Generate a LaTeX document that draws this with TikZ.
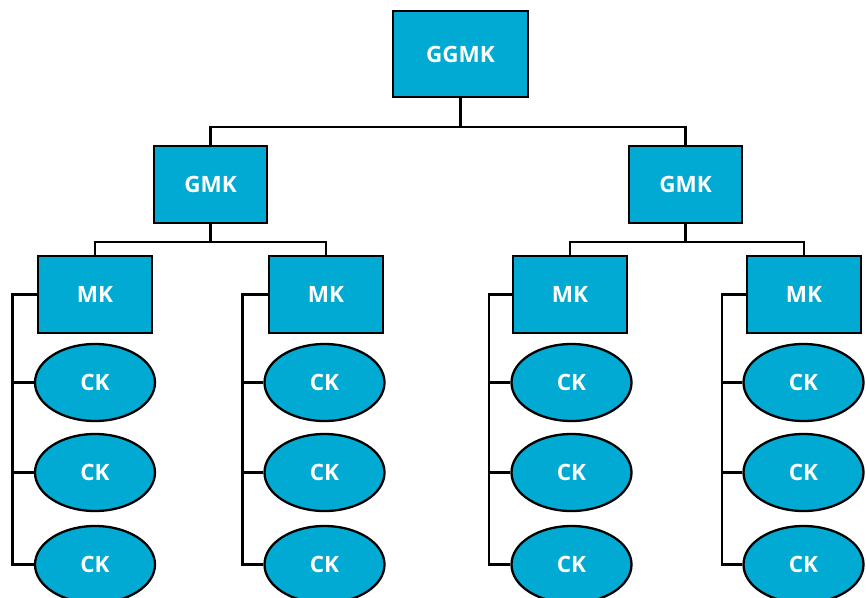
\documentclass[tikz,border=0pt]{standalone}
\usepackage{fontspec}
\setmainfont{Open Sans}
\usetikzlibrary{shapes.geometric}
\definecolor{cyanfill}{HTML}{00AAD2}
\begin{document}
\begin{tikzpicture}[x=1pt,y=-1pt,
  box/.style={draw=black,line width=2.3pt,fill=cyanfill,text=white,font=\fontsize{22.5}{26}\selectfont\bfseries,inner sep=0pt},
  ell/.style={ellipse,draw=black,line width=2.3pt,fill=cyanfill,text=white,font=\fontsize{22.5}{26}\selectfont\bfseries,minimum width=120pt,minimum height=77pt,inner sep=0pt},
  link/.style={draw=black,line width=2.2pt}]
\useasboundingbox (0,0) rectangle (866,597);
% boxes
\node[box,minimum width=135pt,minimum height=86pt] (ggmk) at (460.5,54) {GGMK};
\node[box,minimum width=113pt,minimum height=77pt] (gmk1) at (210.5,184.5) {GMK};
\node[box,minimum width=113pt,minimum height=77pt] (gmk2) at (685.5,184.5) {GMK};
\node[box,minimum width=114pt,minimum height=77pt] (mk1) at (95,294.5) {MK};
\node[box,minimum width=114pt,minimum height=77pt] (mk2) at (326,294.5) {MK};
\node[box,minimum width=114pt,minimum height=77pt] (mk3) at (570,294.5) {MK};
\node[box,minimum width=114pt,minimum height=77pt] (mk4) at (804,294.5) {MK};
% ellipses
\foreach \c/\x in {1/95,2/324.5,3/571.5,4/803.5}{
  \node[ell] (ck\c1) at (\x,382.5) {CK};
  \node[ell] (ck\c2) at (\x,472.5) {CK};
  \node[ell] (ck\c3) at (\x,564.5) {CK};
}
% tree links
\coordinate (j0) at (460.5,127);
\coordinate (j1) at (210.5,242);
\coordinate (j2) at (685.5,242);
\draw[link] (ggmk.south) -- (j0);
\draw[link] (gmk1.north) |- (j0) -| (gmk2.north);
\draw[link] (gmk1.south) -- (j1);
\draw[link] (mk1.north) |- (j1) -| (mk2.north);
\draw[link] (gmk2.south) -- (j2);
\draw[link] (mk3.north) |- (j2) -| (mk4.north);
% side spines
\foreach \c/\sx in {1/12.5,2/242.5,3/489,4/722}{
  \coordinate (s\c) at (\sx,564.5);
  \draw[link] (mk\c.west) -| (s\c) -- (ck\c3.west);
  \draw[link] (ck\c1.west) -- (ck\c1.west -| s\c);
  \draw[link] (ck\c2.west) -- (ck\c2.west -| s\c);
}
\end{tikzpicture}
\end{document}
